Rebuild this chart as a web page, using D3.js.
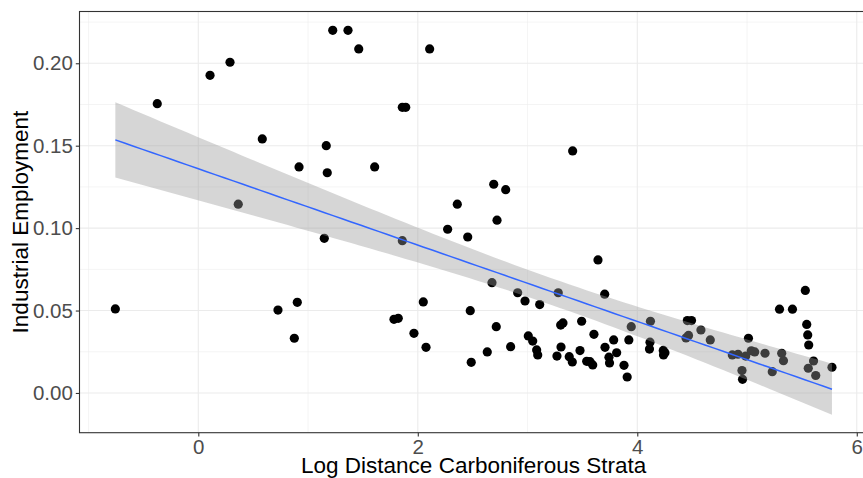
<!DOCTYPE html>
<html>
<head>
<meta charset="utf-8">
<script src="https://cdn.jsdelivr.net/npm/d3@7"></script>
<style>
  body { margin: 0; background: #fff; }
  text { font-family: "Liberation Sans", Arial, sans-serif; }
</style>
</head>
<body>
<div id="myDiv"></div>
<script>
//Data: log distance to carboniferous strata vs industrial employment
var logDistance = [
  -0.756, -0.374, 0.107, 0.289, 0.364, 0.583, 0.726, 0.875, 0.902, 0.918,
  1.148, 1.166, 1.175, 1.225, 1.364, 1.462, 1.607, 1.783, 1.822, 1.859,
  1.890, 1.859, 1.965, 2.050, 2.075, 2.108, 2.272, 2.360, 2.455, 2.478,
  2.487, 2.633, 2.676, 2.692, 2.715, 2.722, 2.801, 2.846, 2.910, 2.977,
  3.007, 3.047, 3.083, 3.093, 3.111, 3.268, 3.280, 3.305, 3.302, 3.323,
  3.380, 3.408, 3.411, 3.478, 3.493, 3.539, 3.569, 3.594, 3.605, 3.642,
  3.703, 3.706, 3.742, 3.747, 3.785, 3.812, 3.879, 3.908, 3.923, 3.945,
  4.116, 4.111, 4.120, 4.237, 4.252, 4.239, 4.444, 4.456, 4.467, 4.494,
  4.580, 4.665, 4.866, 4.918, 4.954, 4.959, 4.988, 5.013, 5.039, 5.070,
  5.164, 5.230, 5.296, 5.414, 5.316, 5.332, 5.531, 5.544, 5.553, 5.562,
  5.606, 5.558, 5.626, 5.774
];
var employment = [
  0.0510, 0.1755, 0.1927, 0.2006, 0.1145, 0.1541, 0.0503, 0.0332, 0.0550, 0.1371,
  0.0938, 0.1500, 0.1336, 0.2200, 0.2200, 0.2087, 0.1371, 0.0447, 0.0453, 0.1733,
  0.1733, 0.0924, 0.0362, 0.0552, 0.0277, 0.2087, 0.0993, 0.1145, 0.0946, 0.0499,
  0.0186, 0.0249, 0.0669, 0.1266, 0.0402, 0.1048, 0.1233, 0.0281, 0.0608, 0.0558,
  0.0346, 0.0315, 0.0261, 0.0231, 0.0536, 0.0224, 0.0608, 0.0279, 0.0412, 0.0425,
  0.0220, 0.0188, 0.1468, 0.0257, 0.0435, 0.0192, 0.0190, 0.0170, 0.0356, 0.0807,
  0.0599, 0.0277, 0.0217, 0.0182, 0.0322, 0.0244, 0.0168, 0.0097, 0.0322, 0.0402,
  0.0308, 0.0266, 0.0435, 0.0258, 0.0244, 0.0231, 0.0334, 0.0439, 0.0349, 0.0439,
  0.0382, 0.0322, 0.0231, 0.0235, 0.0136, 0.0083, 0.0224, 0.0332, 0.0256, 0.0249,
  0.0241, 0.0129, 0.0508, 0.0508, 0.0241, 0.0196, 0.0622, 0.0416, 0.0352, 0.0291,
  0.0194, 0.0150, 0.0106, 0.0156
];

//Axis breaks
var xMajor = [0, 2, 4, 6];
var xMinor = [-1, 1, 3, 5];
var yMajor = [0, 0.05, 0.10, 0.15, 0.20];
var yMinor = [0.025, 0.075, 0.125, 0.175, 0.225];

//Width and height
var w = 863;
var h = 478;
var margin = {left: 79.5, top: 11.5, right: -4.8, bottom: 45.3};
var pw = w - margin.left - margin.right;
var ph = h - margin.top - margin.bottom;

var x = d3.scaleLinear().domain([-1.0825, 6.1005]).range([margin.left, margin.left + pw]);
var y = d3.scaleLinear().domain([-0.0241, 0.2314]).range([margin.top + ph, margin.top]);

//Linear fit with 95% confidence band (like geom_smooth(method = "lm"))
var n = logDistance.length;
var xbar = d3.mean(logDistance);
var ybar = d3.mean(employment);
var sxx = 0, sxy = 0;
for (var i = 0; i < n; i++) {
  sxx += (logDistance[i] - xbar) * (logDistance[i] - xbar);
  sxy += (logDistance[i] - xbar) * (employment[i] - ybar);
}
var slope = sxy / sxx;
var intercept = ybar - slope * xbar;
var sse = 0;
for (var i = 0; i < n; i++) {
  var r = employment[i] - (intercept + slope * logDistance[i]);
  sse += r * r;
}
var s = Math.sqrt(sse / (n - 2));
var tCrit = 1.984;
var xMin = d3.min(logDistance), xMax = d3.max(logDistance);
var fit = d3.range(80).map(function(k) {
  var xv = xMin + (xMax - xMin) * k / 79;
  var yv = intercept + slope * xv;
  var se = s * Math.sqrt(1 / n + (xv - xbar) * (xv - xbar) / sxx);
  return {x: xv, y: yv, lo: yv - tCrit * se, hi: yv + tCrit * se};
});

//Create SVG element
var svg = d3.select("#myDiv")
    .append("svg")
    .attr("width", w)
    .attr("height", h);

svg.append("rect")
  .attr("x", margin.left).attr("y", margin.top)
  .attr("width", pw).attr("height", ph)
  .attr("fill", "white");

//Grid lines
var grid = svg.append("g");
grid.selectAll(".ymin").data(yMinor).enter().append("line")
  .attr("x1", margin.left).attr("x2", margin.left + pw)
  .attr("y1", function(d) { return y(d); }).attr("y2", function(d) { return y(d); })
  .attr("stroke", "#EBEBEB").attr("stroke-width", 0.55);
grid.selectAll(".xmin").data(xMinor).enter().append("line")
  .attr("y1", margin.top).attr("y2", margin.top + ph)
  .attr("x1", function(d) { return x(d); }).attr("x2", function(d) { return x(d); })
  .attr("stroke", "#EBEBEB").attr("stroke-width", 0.55);
grid.selectAll(".ymaj").data(yMajor).enter().append("line")
  .attr("x1", margin.left).attr("x2", margin.left + pw)
  .attr("y1", function(d) { return y(d); }).attr("y2", function(d) { return y(d); })
  .attr("stroke", "#EBEBEB").attr("stroke-width", 1.1);
grid.selectAll(".xmaj").data(xMajor).enter().append("line")
  .attr("y1", margin.top).attr("y2", margin.top + ph)
  .attr("x1", function(d) { return x(d); }).attr("x2", function(d) { return x(d); })
  .attr("stroke", "#EBEBEB").attr("stroke-width", 1.1);

//Points
svg.append("g").selectAll("circle")
  .data(logDistance)
  .enter()
  .append("circle")
  .attr("cx", function(d) { return x(d); })
  .attr("cy", function(d, i) { return y(employment[i]); })
  .attr("r", 4.6)
  .attr("fill", "black");

//Confidence ribbon, drawn on top of points
svg.append("path")
  .datum(fit)
  .attr("d", d3.area()
    .x(function(d) { return x(d.x); })
    .y0(function(d) { return y(d.lo); })
    .y1(function(d) { return y(d.hi); }))
  .attr("fill", "#999999")
  .attr("fill-opacity", 0.4);

svg.append("path")
  .datum(fit)
  .attr("d", d3.line()
    .x(function(d) { return x(d.x); })
    .y(function(d) { return y(d.y); }))
  .attr("fill", "none")
  .attr("stroke", "#3366FF")
  .attr("stroke-width", 1.5);

//Panel border
svg.append("rect")
  .attr("x", margin.left).attr("y", margin.top)
  .attr("width", pw).attr("height", ph)
  .attr("fill", "none")
  .attr("stroke", "#333333")
  .attr("stroke-width", 1.1);

//Axes
var xAxis = d3.axisBottom(x).tickValues(xMajor).tickSize(3.7).tickPadding(3)
  .tickFormat(d3.format("d"));
var yAxis = d3.axisLeft(y).tickValues(yMajor).tickSize(3.7).tickPadding(3)
  .tickFormat(d3.format(".2f"));

var gx = svg.append("g")
  .attr("transform", "translate(0," + (margin.top + ph) + ")")
  .call(xAxis);
var gy = svg.append("g")
  .attr("transform", "translate(" + margin.left + ",0)")
  .call(yAxis);

[gx, gy].forEach(function(g) {
  g.select(".domain").remove();
  g.selectAll(".tick line").attr("stroke", "#333333").attr("stroke-width", 1.1);
  g.selectAll(".tick text")
    .attr("fill", "#4D4D4D")
    .style("font-size", "20.5px")
    .style("font-family", "'Liberation Sans', Arial, sans-serif");
});

//Axis titles
svg.append("text")
  .attr("x", (margin.left + margin.left + pw) / 2)
  .attr("y", 473)
  .attr("text-anchor", "middle")
  .style("font-size", "22.5px")
  .attr("fill", "black")
  .text("Log Distance Carboniferous Strata");

svg.append("text")
  .attr("transform", "translate(28," + (margin.top + ph / 2) + ") rotate(-90)")
  .attr("text-anchor", "middle")
  .style("font-size", "22.5px")
  .attr("fill", "black")
  .text("Industrial Employment");
</script>
</body>
</html>
